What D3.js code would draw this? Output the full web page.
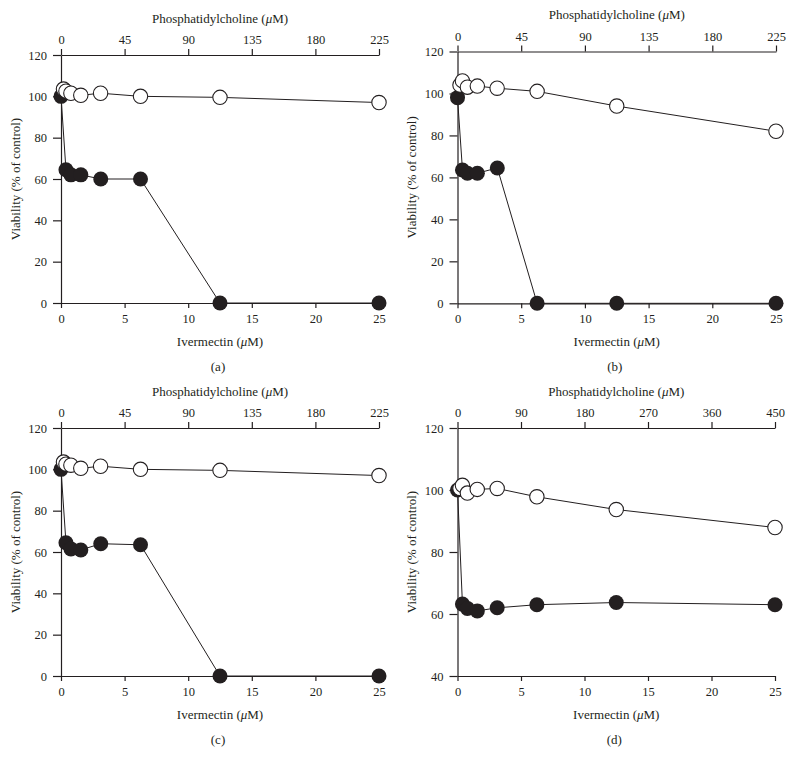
<!DOCTYPE html>
<html>
<head>
<meta charset="utf-8">
<script src="https://cdn.jsdelivr.net/npm/d3@7"></script>
<style>
  body { margin: 0; background: #fff; }
  text { font-family: "Liberation Serif", "DejaVu Serif", serif; fill: #231f20; }
</style>
</head>
<body>
<div id="chart"></div>
<script>
// concentrations (uM)
var ivermectin = [0, 0.39, 0.78, 1.56, 3.125, 6.25, 12.5, 25];
var pcLow = [1.76, 3.5, 7, 14, 28, 56.25, 112.5, 225];
var pcHigh = [3.5, 7, 14, 28, 56.25, 112.5, 225, 450];

// viability (% of control), filled = ivermectin, open = phosphatidylcholine
var filledA = [100, 64.5, 62, 62, 60, 60, 0, 0];
var openA = [103.5, 102.5, 101.5, 100.5, 101.5, 100, 99.5, 97];
var filledB = [98, 63.5, 62, 62, 64.5, 0, 0, 0];
var openB = [104, 106, 103, 103.5, 102.5, 101, 94, 82];
var filledC = [100, 64.5, 61.5, 61, 64, 63.5, 0, 0];
var openC = [103.5, 102.5, 102, 100.5, 101.5, 100, 99.5, 97];
var filledD = [100, 63.2, 61.8, 61, 62, 63, 63.7, 63];
var openD = [100.5, 101.5, 99, 100.2, 100.5, 97.8, 93.7, 87.9];

// tick labels
var ivTicks = [0, 5, 10, 15, 20, 25];
var pcTicksLow = [0, 45, 90, 135, 180, 225];
var pcTicksHigh = [0, 90, 180, 270, 360, 450];
var yTicksFull = [0, 20, 40, 60, 80, 100, 120];
var yTicksD = [40, 60, 80, 100, 120];

var ink = "#231f20";
var W = 793, H = 766;

var svg = d3.select("#chart").append("svg")
  .attr("width", W)
  .attr("height", H);

var panels = [
  { tag: "(a)", x0: 61, x1: 379, top: 55, bottom: 303, yMin: 0, yTicks: yTicksFull,
    pc: pcLow, pcMax: 225, pcTicks: pcTicksLow, filled: filledA, open: openA },
  { tag: "(b)", x0: 457.5, x1: 776, top: 51.5, bottom: 303.3, yMin: 0, yTicks: yTicksFull,
    pc: pcLow, pcMax: 225, pcTicks: pcTicksLow, filled: filledB, open: openB },
  { tag: "(c)", x0: 61, x1: 379, top: 428, bottom: 676, yMin: 0, yTicks: yTicksFull,
    pc: pcLow, pcMax: 225, pcTicks: pcTicksLow, filled: filledC, open: openC },
  { tag: "(d)", x0: 457.5, x1: 775, top: 428, bottom: 676, yMin: 40, yTicks: yTicksD,
    pc: pcHigh, pcMax: 450, pcTicks: pcTicksHigh, filled: filledD, open: openD }
];

panels.forEach(function(p) {
  var g = svg.append("g");

  var x = d3.scaleLinear().domain([0, 25]).range([p.x0, p.x1]);
  var xTop = d3.scaleLinear().domain([0, p.pcMax]).range([p.x0, p.x1]);
  var y = d3.scaleLinear().domain([p.yMin, 120]).range([p.bottom, p.top]);

  var bottomAxis = g.append("g")
    .attr("transform", "translate(0," + p.bottom + ")")
    .call(d3.axisBottom(x).tickValues(ivTicks).tickSize(5).tickSizeOuter(0).tickPadding(6));

  var topAxis = g.append("g")
    .attr("transform", "translate(0," + p.top + ")")
    .call(d3.axisTop(xTop).tickValues(p.pcTicks).tickSize(6).tickSizeOuter(0).tickPadding(5));

  var leftAxis = g.append("g")
    .attr("transform", "translate(" + p.x0 + ",0)")
    .call(d3.axisLeft(y).tickValues(p.yTicks).tickSize(8).tickSizeOuter(0).tickPadding(6));

  [bottomAxis, topAxis, leftAxis].forEach(function(a) {
    a.select(".domain").attr("stroke", ink).attr("stroke-width", 1.2);
    a.selectAll(".tick line").attr("stroke", ink).attr("stroke-width", 1.2);
    a.selectAll(".tick text")
      .attr("font-family", "Liberation Serif")
      .attr("font-size", 12.5)
      .attr("fill", ink);
  });

  var mid = (p.x0 + p.x1) / 2;

  // top title
  var tt = g.append("text")
    .attr("x", mid)
    .attr("y", p.top - 37)
    .attr("dy", "0.35em")
    .attr("text-anchor", "middle")
    .attr("font-size", 13);
  tt.append("tspan").text("Phosphatidylcholine (");
  tt.append("tspan").attr("font-style", "italic").text("\u03bc");
  tt.append("tspan").text("M)");

  // bottom title
  var bt = g.append("text")
    .attr("x", mid)
    .attr("y", p.bottom + 38.5)
    .attr("dy", "0.35em")
    .attr("text-anchor", "middle")
    .attr("font-size", 13);
  bt.append("tspan").text("Ivermectin (");
  bt.append("tspan").attr("font-style", "italic").text("\u03bc");
  bt.append("tspan").text("M)");

  // y title
  g.append("text")
    .attr("transform", "translate(" + (p.x0 - 46) + "," + ((p.top + p.bottom) / 2) + ") rotate(-90)")
    .attr("dy", "0.35em")
    .attr("text-anchor", "middle")
    .attr("font-size", 13)
    .text("Viability (% of control)");

  // panel tag
  g.append("text")
    .attr("x", mid - 2)
    .attr("y", p.bottom + 63.5)
    .attr("dy", "0.35em")
    .attr("text-anchor", "middle")
    .attr("font-size", 13)
    .text(p.tag);

  var filledPts = ivermectin.map(function(c, i) { return [x(c), y(p.filled[i])]; });
  var openPts = p.pc.map(function(c, i) { return [xTop(c), y(p.open[i])]; });

  var line = d3.line();

  g.append("path")
    .attr("d", line(filledPts))
    .attr("fill", "none")
    .attr("stroke", ink)
    .attr("stroke-width", 1);

  g.selectAll(".filled")
    .data(filledPts)
    .enter()
    .append("circle")
    .attr("class", "filled")
    .attr("cx", function(d) { return d[0]; })
    .attr("cy", function(d) { return d[1]; })
    .attr("r", 7.5)
    .attr("fill", ink);

  g.append("path")
    .attr("d", line(openPts))
    .attr("fill", "none")
    .attr("stroke", ink)
    .attr("stroke-width", 1);

  g.selectAll(".open")
    .data(openPts)
    .enter()
    .append("circle")
    .attr("class", "open")
    .attr("cx", function(d) { return d[0]; })
    .attr("cy", function(d) { return d[1]; })
    .attr("r", 7.2)
    .attr("fill", "#fff")
    .attr("stroke", ink)
    .attr("stroke-width", 1.1);
});
</script>
</body>
</html>
